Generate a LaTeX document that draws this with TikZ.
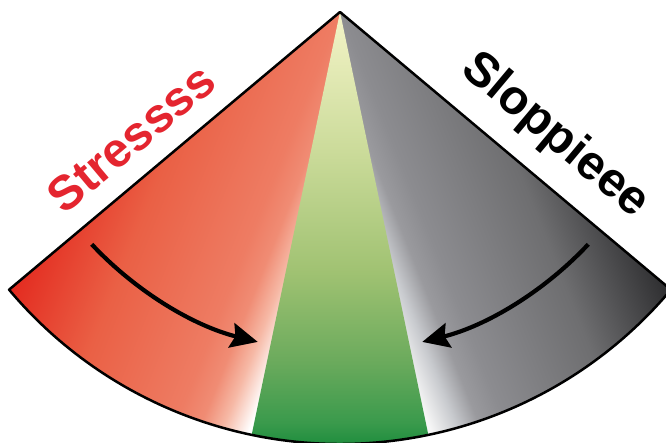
\documentclass[tikz,border=0pt]{standalone}
\usepackage{fontspec}
\setmainfont{Liberation Sans}
\usetikzlibrary{arrows.meta}
\definecolor{stressred}{HTML}{E4252F}
\definecolor{rA}{HTML}{E32A1F}
\definecolor{rB}{HTML}{EA6045}
\definecolor{rC}{HTML}{EE7C63}
\definecolor{rD}{HTML}{F08C74}
\definecolor{rE}{HTML}{F6B9A6}
\definecolor{gA}{HTML}{2C2C2E}
\definecolor{gB}{HTML}{6E6E70}
\definecolor{gC}{HTML}{8C8C90}
\definecolor{gD}{HTML}{9A9A9E}
\definecolor{gE}{HTML}{C8CACE}
\definecolor{gF}{HTML}{F6F6F6}
\definecolor{vA}{HTML}{1C8C3C}
\definecolor{vB}{HTML}{3A9A4C}
\definecolor{vC}{HTML}{6AAA5C}
\definecolor{vD}{HTML}{A0C272}
\definecolor{vE}{HTML}{CBDB9A}
\definecolor{vF}{HTML}{F4F4C8}
\pgfdeclarehorizontalshading{redgrad}{100bp}{color(0bp)=(rA); color(36.6bp)=(rA); color(46.3bp)=(rB); color(57bp)=(rC); color(59.4bp)=(rD); color(61.6bp)=(rE); color(64.1bp)=(white); color(100bp)=(white)}
\pgfdeclarehorizontalshading{graygrad}{100bp}{color(0bp)=(gA); color(36.6bp)=(gA); color(46.3bp)=(gB); color(57bp)=(gC); color(59.4bp)=(gD); color(61.6bp)=(gE); color(64.1bp)=(gF); color(100bp)=(gF)}
\pgfdeclareverticalshading{greengrad}{100bp}{color(0bp)=(vA); color(25bp)=(vA); color(27.8bp)=(vB); color(34.7bp)=(vC); color(45.1bp)=(vD); color(59bp)=(vE); color(75bp)=(vF); color(100bp)=(vF)}
\tikzset{
  outline/.style={draw=black, line width=2.5bp, line join=round},
  bigarrow/.style={draw=black, line width=4.2bp, -{Stealth[length=27bp,width=25bp,inset=4bp]}},
  lbl/.style={font=\fontsize{48.5}{52}\selectfont\bfseries, inner sep=0pt}
}
\begin{document}
\begin{tikzpicture}[x=1bp,y=-1bp]
\useasboundingbox (0,0) rectangle (666,443);
\clip (0,0) rectangle (666,443);
\coordinate (apex) at (340,12);
% red part
\begin{scope}
\clip (apex) -- ++(140:432) arc[start angle=140,end angle=90,radius=432] -- cycle;
\begin{scope}[transform canvas={rotate=-21.8}]
\shade[shading=redgrad] (0,-700) rectangle (500,700);
\end{scope}
\end{scope}
% grey part
\begin{scope}
\clip (apex) -- ++(90:432) arc[start angle=90,end angle=40,radius=432] -- cycle;
\begin{scope}[transform canvas={shift={(680,0)},rotate=201.8}]
\shade[shading=graygrad] (0,-700) rectangle (500,700);
\end{scope}
\end{scope}
% green wedge
\shade[shading=greengrad] (apex) -- ++(101.8:432) arc[start angle=101.8,end angle=78.2,radius=432] -- cycle;
% outline
\path[outline] (apex) -- ++(140:432) arc[start angle=140,end angle=40,radius=432] -- cycle;
% arrows
\coordinate (la) at ([shift={(136.9:340)}]apex);
\coordinate (ra) at ([shift={(43.1:340)}]apex);
\path[bigarrow] (la) arc[start angle=136.9,end angle=104,radius=340];
\path[bigarrow] (ra) arc[start angle=43.1,end angle=76,radius=340];
% labels
\node[lbl, text=stressred, rotate=40] (stress) at (131,138) {Stressss};
\node[lbl, text=black, rotate=-40] (sloppy) at (555,136) {Sloppieee};
\end{tikzpicture}
\end{document}
